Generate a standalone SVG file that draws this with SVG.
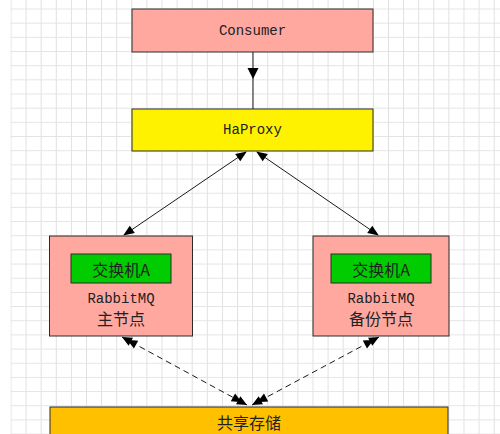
<svg xmlns="http://www.w3.org/2000/svg" width="500" height="434" viewBox="0 0 500 434">
<style>
.box{stroke:#2b2b2b;stroke-width:1}
.mono{font-family:"Liberation Mono","Noto Sans CJK SC",monospace;font-size:14px;fill:#222;text-anchor:middle;dominant-baseline:central}
.cjk{font-family:"Noto Sans CJK SC","Liberation Mono",sans-serif;font-size:16px;fill:#222;text-anchor:middle;dominant-baseline:central}
.edge{stroke:#1a1a1a;stroke-width:1;fill:none}
</style>
<defs>
<pattern id="grid" patternUnits="userSpaceOnUse" x="10.5" y="8.5" width="15.1" height="14.17">
<rect x="0" y="0" width="1" height="14.17" fill="#e0e0e0"/>
<rect x="0" y="0" width="15.1" height="1" fill="#e4e4e4"/>
</pattern>
<marker id="arr" markerUnits="userSpaceOnUse" markerWidth="12" markerHeight="10" refX="10" refY="4.5" orient="auto-start-reverse" overflow="visible">
<path d="M0,0 L11,4.5 L0,9 z" fill="#000"/>
</marker>
<marker id="dbl" markerUnits="userSpaceOnUse" markerWidth="20" markerHeight="10" refX="10" refY="4.5" orient="auto-start-reverse" overflow="visible">
<path d="M0,0 L10,4.5 L0,9 z M-6,0 L4,4.5 L-6,9 z" fill="#000"/>
</marker>
</defs>
<rect width="500" height="434" fill="#fff"/>
<rect x="10.5" y="0" width="489.5" height="434" fill="url(#grid)"/>

<g id="connectors">
<line class="edge" x1="253" y1="52" x2="253" y2="109"/>
<polygon points="247.5,68 258.5,68 253,79" fill="#000"/>
<line class="edge" x1="246" y1="152" x2="124" y2="235" marker-start="url(#arr)" marker-end="url(#arr)"/>
<line class="edge" x1="257" y1="152" x2="378" y2="235" marker-start="url(#arr)" marker-end="url(#arr)"/>
<line class="edge" x1="122" y1="337" x2="247" y2="405" stroke-dasharray="6 4" marker-start="url(#dbl)" marker-end="url(#dbl)"/>
<line class="edge" x1="379" y1="337" x2="252" y2="405" stroke-dasharray="6 4" marker-start="url(#dbl)" marker-end="url(#dbl)"/>
</g>

<g id="consumer">
<rect class="box" x="132" y="9" width="241" height="43" fill="#FFA8A0"/>
<text class="mono" x="252.5" y="30.5">Consumer</text>
</g>

<g id="haproxy">
<rect class="box" x="132" y="109" width="241" height="42" fill="#FFF200"/>
<text class="mono" x="252.5" y="130">HaProxy</text>
</g>

<g id="rabbit-main">
<rect class="box" x="49.5" y="236" width="143" height="100" fill="#FFA8A0"/>
<g id="exchange-main">
<rect class="box" x="71" y="254" width="100" height="29" fill="#00CC00"/>
<text class="cjk" x="121" y="268.5">交换机A</text>
</g>
<text class="mono" x="121" y="299">RabbitMQ</text>
<text class="cjk" x="121" y="318">主节点</text>
</g>

<g id="rabbit-backup">
<rect class="box" x="313" y="236" width="136" height="100" fill="#FFA8A0"/>
<g id="exchange-backup">
<rect class="box" x="331" y="254" width="100" height="29" fill="#00CC00"/>
<text class="cjk" x="381" y="268.5">交换机A</text>
</g>
<text class="mono" x="381" y="299">RabbitMQ</text>
<text class="cjk" x="381" y="318">备份节点</text>
</g>

<g id="shared-storage">
<rect class="box" x="50" y="407" width="398" height="40" fill="#FFC000"/>
<text class="cjk" x="249" y="422">共享存储</text>
</g>
</svg>
